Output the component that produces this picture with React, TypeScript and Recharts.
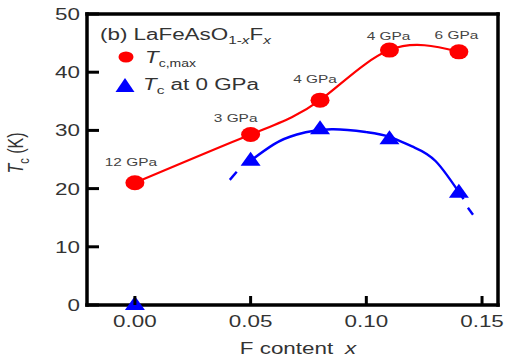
import { ComposedChart, Line, Scatter, XAxis, YAxis } from 'recharts';

// F content x and the two Tc series
const xContent = [0.0, 0.05, 0.08, 0.11, 0.14];
const tcMax = [21.0, 29.3, 35.2, 43.8, 43.5];
const tcMaxPressure = ['12 GPa', '3 GPa', '4 GPa', '4 GPa', '6 GPa'];
const tcZero = [0.0, 24.8, 30.2, 28.5, 19.3];

// blue guide curve
const guideX = [0.05, 0.06, 0.07, 0.085, 0.1, 0.11, 0.12, 0.13, 0.142];
const guideTc = [24.8, 27.6, 29.3, 30.2, 29.7, 28.9, 27.2, 24.7, 18.2];
const dashLeftX = [0.041, 0.044];
const dashLeftTc = [21.5, 22.9];
const dashRightX = [0.1439, 0.1461];
const dashRightTc = [16.7, 15.5];

const xTicks = [0, 0.05, 0.1, 0.15];
const yTicks = [0, 10, 20, 30, 40, 50];

const pair = (xs: number[], ys: number[]) => xs.map((x, i) => ({ x, y: ys[i] }));
const maxData = xContent.map((x, i) => ({ x, y: tcMax[i], p: tcMaxPressure[i] }));
const zeroData = pair(xContent, tcZero);
const guideData = pair(guideX, guideTc);
const dashLeft = pair(dashLeftX, dashLeftTc);
const dashRight = pair(dashRightX, dashRightTc);

const RED = '#ff0000';
const BLUE = '#0000ff';
const INK = '#000';
const TXT = '#333';
const FONT = "'Liberation Sans', Arial, sans-serif";
const X_DOMAIN: [number, number] = [-0.0207, 0.1569];

// label nudges (px) for the pressure tags, in point order
const NUDGE = [[-4, -17], [-15, -12.5], [-5, -17], [-1, -10], [-2.5, -13]];

// the source figure is stretched sideways, so text is too
function SText({ x, y, anchor = 'start', size = 16, fill = TXT, children }: any) {
  return (
    <text
      transform={`translate(${x},${y}) scale(1.4,1)`}
      textAnchor={anchor}
      fontSize={size}
      fill={fill}
      fontFamily={FONT}
    >
      {children}
    </text>
  );
}

const BottomTick = ({ x, y, payload }: any) => (
  <g>
    <line x1={x} x2={x} y1={y} y2={y - 9} stroke={INK} strokeWidth={3} />
    <SText x={x} y={y + 22} anchor="middle">{payload.value.toFixed(2)}</SText>
  </g>
);

const TopTick = ({ x, y }: any) => (
  <line x1={x} x2={x} y1={y} y2={y + 9} stroke={INK} strokeWidth={3} />
);

const LeftTick = ({ x, y, payload }: any) => (
  <g>
    <line x1={x} x2={x + 12} y1={y} y2={y} stroke={INK} strokeWidth={3} />
    <SText x={x - 7} y={y + 6} anchor="end">{payload.value}</SText>
  </g>
);

const RightTick = ({ x, y }: any) => (
  <line x1={x} x2={x - 8} y1={y} y2={y} stroke={INK} strokeWidth={3} />
);

const RedDot = (p: any) => {
  const [dx, dy] = NUDGE[p.index] || [0, -14];
  return (
    <g>
      <ellipse cx={p.cx} cy={p.cy} rx={9.5} ry={7.5} fill={RED} />
      <SText x={p.cx + dx} y={p.cy + dy} anchor="middle" size={11} fill="#444">
        {p.payload.p}
      </SText>
    </g>
  );
};

const BlueTri = (p: any) => (
  <polygon
    points={`${p.cx},${p.cy - 9} ${p.cx - 10},${p.cy + 5} ${p.cx + 10},${p.cy + 5}`}
    fill={BLUE}
  />
);

const axisStyle = { stroke: INK, strokeWidth: 3.5, strokeLinecap: 'square' as const };

export default function App() {
  return (
    <div style={{ position: 'absolute', left: 0, top: 0, width: 505, height: 361, background: '#fff' }}>
      <ComposedChart width={505} height={361} margin={{ top: 13, right: 6, bottom: 0, left: 0 }}>
        <XAxis
          dataKey="x"
          type="number"
          domain={X_DOMAIN}
          ticks={xTicks}
          height={56}
          tickSize={0}
          tickMargin={0}
          axisLine={axisStyle}
          tick={<BottomTick />}
        />
        <XAxis
          xAxisId="top"
          orientation="top"
          type="number"
          domain={X_DOMAIN}
          ticks={xTicks}
          height={1}
          tickSize={0}
          tickMargin={0}
          axisLine={axisStyle}
          tick={<TopTick />}
        />
        <YAxis
          type="number"
          domain={[0, 50]}
          ticks={yTicks}
          width={87}
          tickSize={0}
          tickMargin={0}
          axisLine={axisStyle}
          tick={<LeftTick />}
        />
        <YAxis
          yAxisId="right"
          orientation="right"
          type="number"
          domain={[0, 50]}
          ticks={yTicks}
          width={1}
          tickSize={0}
          tickMargin={0}
          axisLine={axisStyle}
          tick={<RightTick />}
        />

        <Line data={guideData} dataKey="y" type="natural" stroke={BLUE} strokeWidth={2.4} dot={false} isAnimationActive={false} />
        <Line data={dashLeft} dataKey="y" type="linear" stroke={BLUE} strokeWidth={2.4} dot={false} isAnimationActive={false} />
        <Line data={dashRight} dataKey="y" type="linear" stroke={BLUE} strokeWidth={2.4} dot={false} isAnimationActive={false} />
        <Line data={maxData} dataKey="y" type="natural" stroke={RED} strokeWidth={2.2} dot={false} isAnimationActive={false} />
        <Scatter data={zeroData} dataKey="y" shape={BlueTri} isAnimationActive={false} />
        <Scatter data={maxData} dataKey="y" shape={RedDot} isAnimationActive={false} />

        <g>
          <SText x={100} y={40}>
            (b) LaFeAsO<tspan fontSize={11} dy={4}>1-</tspan><tspan fontSize={11} fontStyle="italic">x</tspan><tspan dy={-4}>F</tspan><tspan fontSize={11} dy={4} fontStyle="italic">x</tspan>
          </SText>
          <ellipse cx={126} cy={57} rx={7.5} ry={5.5} fill={RED} />
          <SText x={145} y={63}>
            <tspan fontStyle="italic">T</tspan><tspan fontSize={10} dy={4}>c,max</tspan>
          </SText>
          <polygon points="125,78 115.5,92 134.5,92" fill={BLUE} />
          <SText x={143} y={90}>
            <tspan fontStyle="italic">T</tspan><tspan fontSize={11} dy={4}>c</tspan><tspan dy={-4}> at 0 GPa</tspan>
          </SText>
          <text
            transform="translate(23,153) scale(1.4,1) rotate(-90)"
            textAnchor="middle"
            fontSize={16}
            fill={TXT}
            fontFamily={FONT}
          >
            <tspan fontStyle="italic">T</tspan><tspan fontSize={11} dy={4}>c</tspan><tspan dy={-4}> (K)</tspan>
          </text>
          <SText x={298} y={354} anchor="middle">
            F content <tspan fontStyle="italic" dx={4}>x</tspan>
          </SText>
        </g>
      </ComposedChart>
    </div>
  );
}
